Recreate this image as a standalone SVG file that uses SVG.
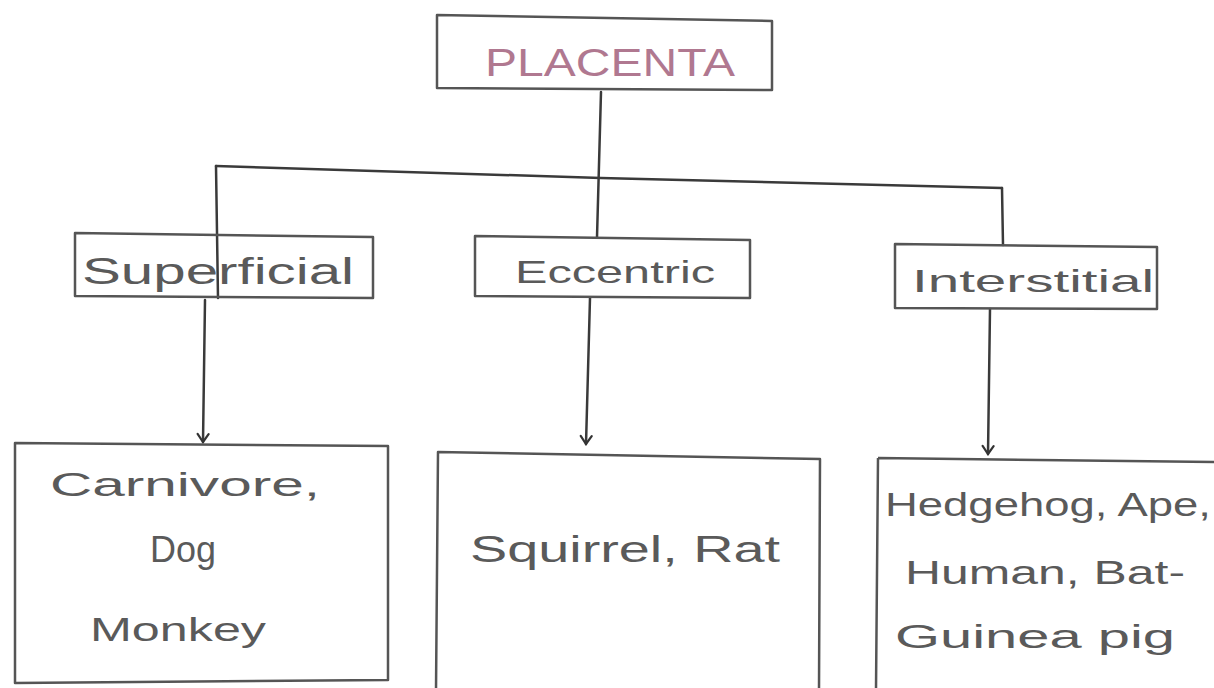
<svg xmlns="http://www.w3.org/2000/svg" width="1214" height="688" viewBox="0 0 1214 688">
  <style>
    .box { fill: none; stroke: #555; stroke-width: 2.5; stroke-linejoin: round; }
    .wire { fill: none; stroke: #3a3a3a; stroke-width: 2.5; stroke-linecap: round; }
    .hand { font-family: "Liberation Sans", "DejaVu Sans", sans-serif; font-weight: normal; fill: #5a5a5a; }
    .title { font-family: "Liberation Sans", "DejaVu Sans", sans-serif; fill: #b07890; }
  </style>
  <defs>
    <marker id="tip" viewBox="0 0 14 14" refX="12" refY="7" markerWidth="14" markerHeight="14" markerUnits="userSpaceOnUse" orient="auto">
      <path d="M4,1.5 L12,7 L4,12.5" fill="none" stroke="#333" stroke-width="2.2" stroke-linecap="round"/>
    </marker>
  </defs>
  <rect width="1214" height="688" fill="#ffffff"/>

  <!-- connectors -->
  <g id="connectors">
    <path class="wire" d="M601,92 L597,237"/>
    <path class="wire" d="M216,166 L601,178 L1002,188"/>
    <path class="wire" d="M216,166 L218,298"/>
    <path class="wire" d="M1002,188 L1003,245"/>
    <path class="wire" d="M205,300 L203,442" marker-end="url(#tip)"/>
    <path class="wire" d="M590,298 L586,444" marker-end="url(#tip)"/>
    <path class="wire" d="M990,309 L988,454" marker-end="url(#tip)"/>
  </g>

  <g id="placenta">
    <path class="box" d="M437,15 L772,21 L772,90 L437,88 Z"/>
    <text class="title" x="485" y="76" font-size="38" textLength="250" lengthAdjust="spacingAndGlyphs">PLACENTA</text>
  </g>

  <g id="superficial">
    <path class="box" d="M75,233 L373,237 L373,298 L75,296 Z"/>
    <text class="hand" x="82" y="284" font-size="36" textLength="272" lengthAdjust="spacingAndGlyphs">Superficial</text>
  </g>

  <g id="eccentric">
    <path class="box" d="M475,236 L750,240 L750,298 L475,296 Z"/>
    <text class="hand" x="515" y="283" font-size="32" textLength="200" lengthAdjust="spacingAndGlyphs">Eccentric</text>
  </g>

  <g id="interstitial">
    <path class="box" d="M895,244 L1157,247 L1157,309 L895,308 Z"/>
    <text class="hand" x="912" y="292" font-size="32" textLength="242" lengthAdjust="spacingAndGlyphs">Interstitial</text>
  </g>

  <g id="superficial-examples">
    <path class="box" d="M15,443 L388,446 L388,680 L15,683 Z"/>
    <text class="hand" x="50" y="496" font-size="34" textLength="270" lengthAdjust="spacingAndGlyphs">Carnivore,</text>
    <text class="hand" x="150" y="562" font-size="36" textLength="66" lengthAdjust="spacingAndGlyphs">Dog</text>
    <text class="hand" x="90" y="641" font-size="34" textLength="176" lengthAdjust="spacingAndGlyphs">Monkey</text>
  </g>

  <g id="eccentric-examples">
    <path class="box" d="M438,452 L820,459 L819,690 L436,690 Z"/>
    <text class="hand" x="470" y="562" font-size="36" textLength="310" lengthAdjust="spacingAndGlyphs">Squirrel, Rat</text>
  </g>

  <g id="interstitial-examples">
    <path class="box" d="M878,458 L1216,462 M878,458 L876,690"/>
    <text class="hand" x="885" y="516" font-size="34" textLength="326" lengthAdjust="spacingAndGlyphs">Hedgehog, Ape,</text>
    <text class="hand" x="905" y="584" font-size="34" textLength="280" lengthAdjust="spacingAndGlyphs">Human, Bat-</text>
    <text class="hand" x="895" y="648" font-size="34" textLength="280" lengthAdjust="spacingAndGlyphs">Guinea pig</text>
  </g>
</svg>
